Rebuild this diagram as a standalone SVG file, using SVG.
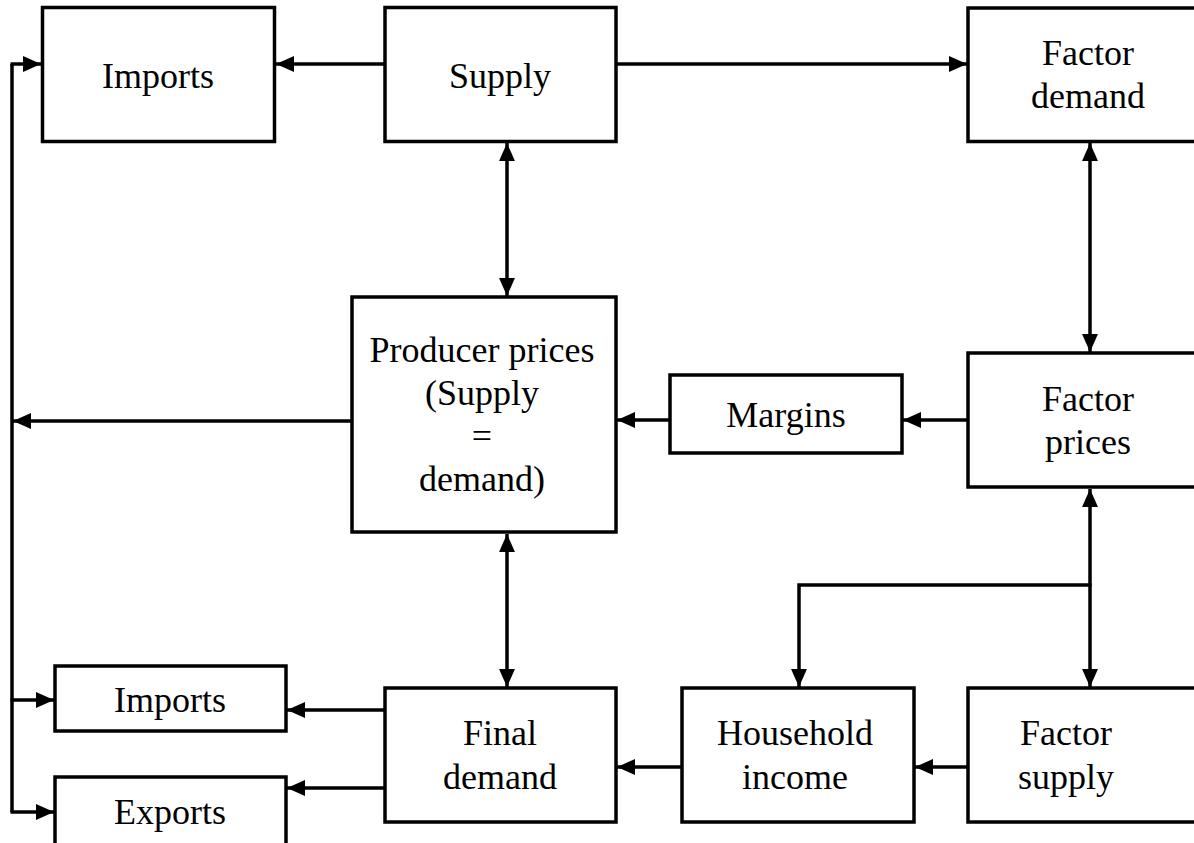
<svg xmlns="http://www.w3.org/2000/svg" width="1194" height="843" viewBox="0 0 1194 843">
<style>
.box{fill:#fff;stroke:#000;stroke-width:3.5}
.t{font-family:"Liberation Serif","Times New Roman",serif;font-size:36px;fill:#000;text-anchor:middle}
.c{fill:none;stroke:#000;stroke-width:3.5}
.a{marker-end:url(#ah)}
.b{marker-start:url(#ah);marker-end:url(#ah)}
</style>
<defs>
<marker id="ah" markerUnits="userSpaceOnUse" markerWidth="18" markerHeight="16" refX="17" refY="7.5" orient="auto-start-reverse" viewBox="0 0 17 15">
<path d="M0,0 L17,7.5 L0,15 z" fill="#000"/>
</marker>
</defs>
<rect width="1194" height="843" fill="#fff"/>
<g id="connectors">
<path class="c a" d="M385,64 H276"/>
<path class="c a" d="M616,64 H967"/>
<path class="c b" d="M507,143 V296"/>
<path class="c b" d="M1090,143 V352"/>
<path class="c a" d="M968,420 H903"/>
<path class="c a" d="M670,420 H617"/>
<path class="c a" d="M352,421 H13"/>
<path class="c" d="M12,64 V812"/>
<path class="c a" d="M10.5,64 H41"/>
<path class="c a" d="M10.5,700 H54"/>
<path class="c a" d="M10.5,812 H54"/>
<path class="c b" d="M1090,489 V687"/>
<path class="c a" d="M1091.5,585 H799 V687"/>
<path class="c b" d="M507,534 V687"/>
<path class="c a" d="M385,710 H287"/>
<path class="c a" d="M385,788 H287"/>
<path class="c a" d="M682,767 H617"/>
<path class="c a" d="M968,767 H915"/>
</g>
<g id="imports-top">
<rect class="box" x="42.5" y="7.5" width="232" height="134"/>
<text class="t" x="158" y="88">Imports</text>
</g>
<g id="supply">
<rect class="box" x="385" y="7.5" width="231" height="134"/>
<text class="t" x="500" y="88">Supply</text>
</g>
<g id="factor-demand">
<rect class="box" x="968" y="8" width="240" height="133.5"/>
<text class="t" x="1088" y="65">Factor</text>
<text class="t" x="1088" y="108">demand</text>
</g>
<g id="producer-prices">
<rect class="box" x="352" y="297" width="264" height="235"/>
<text class="t" x="482" y="362">Producer prices</text>
<text class="t" x="482" y="405">(Supply</text>
<text class="t" x="482" y="448">=</text>
<text class="t" x="482" y="491">demand)</text>
</g>
<g id="margins">
<rect class="box" x="670" y="375" width="232" height="78"/>
<text class="t" x="786" y="427">Margins</text>
</g>
<g id="factor-prices">
<rect class="box" x="968" y="353" width="240" height="134"/>
<text class="t" x="1088" y="411">Factor</text>
<text class="t" x="1088" y="454">prices</text>
</g>
<g id="imports-bottom">
<rect class="box" x="55" y="666" width="231" height="65"/>
<text class="t" x="170" y="712">Imports</text>
</g>
<g id="exports">
<rect class="box" x="55" y="777" width="231" height="80"/>
<text class="t" x="170" y="824">Exports</text>
</g>
<g id="final-demand">
<rect class="box" x="385" y="688" width="231" height="134"/>
<text class="t" x="500" y="745">Final</text>
<text class="t" x="500" y="789">demand</text>
</g>
<g id="household-income">
<rect class="box" x="682" y="688" width="232" height="134"/>
<text class="t" x="795" y="745">Household</text>
<text class="t" x="795" y="789">income</text>
</g>
<g id="factor-supply">
<rect class="box" x="968" y="688" width="240" height="134"/>
<text class="t" x="1066" y="745">Factor</text>
<text class="t" x="1066" y="789">supply</text>
</g>
</svg>
